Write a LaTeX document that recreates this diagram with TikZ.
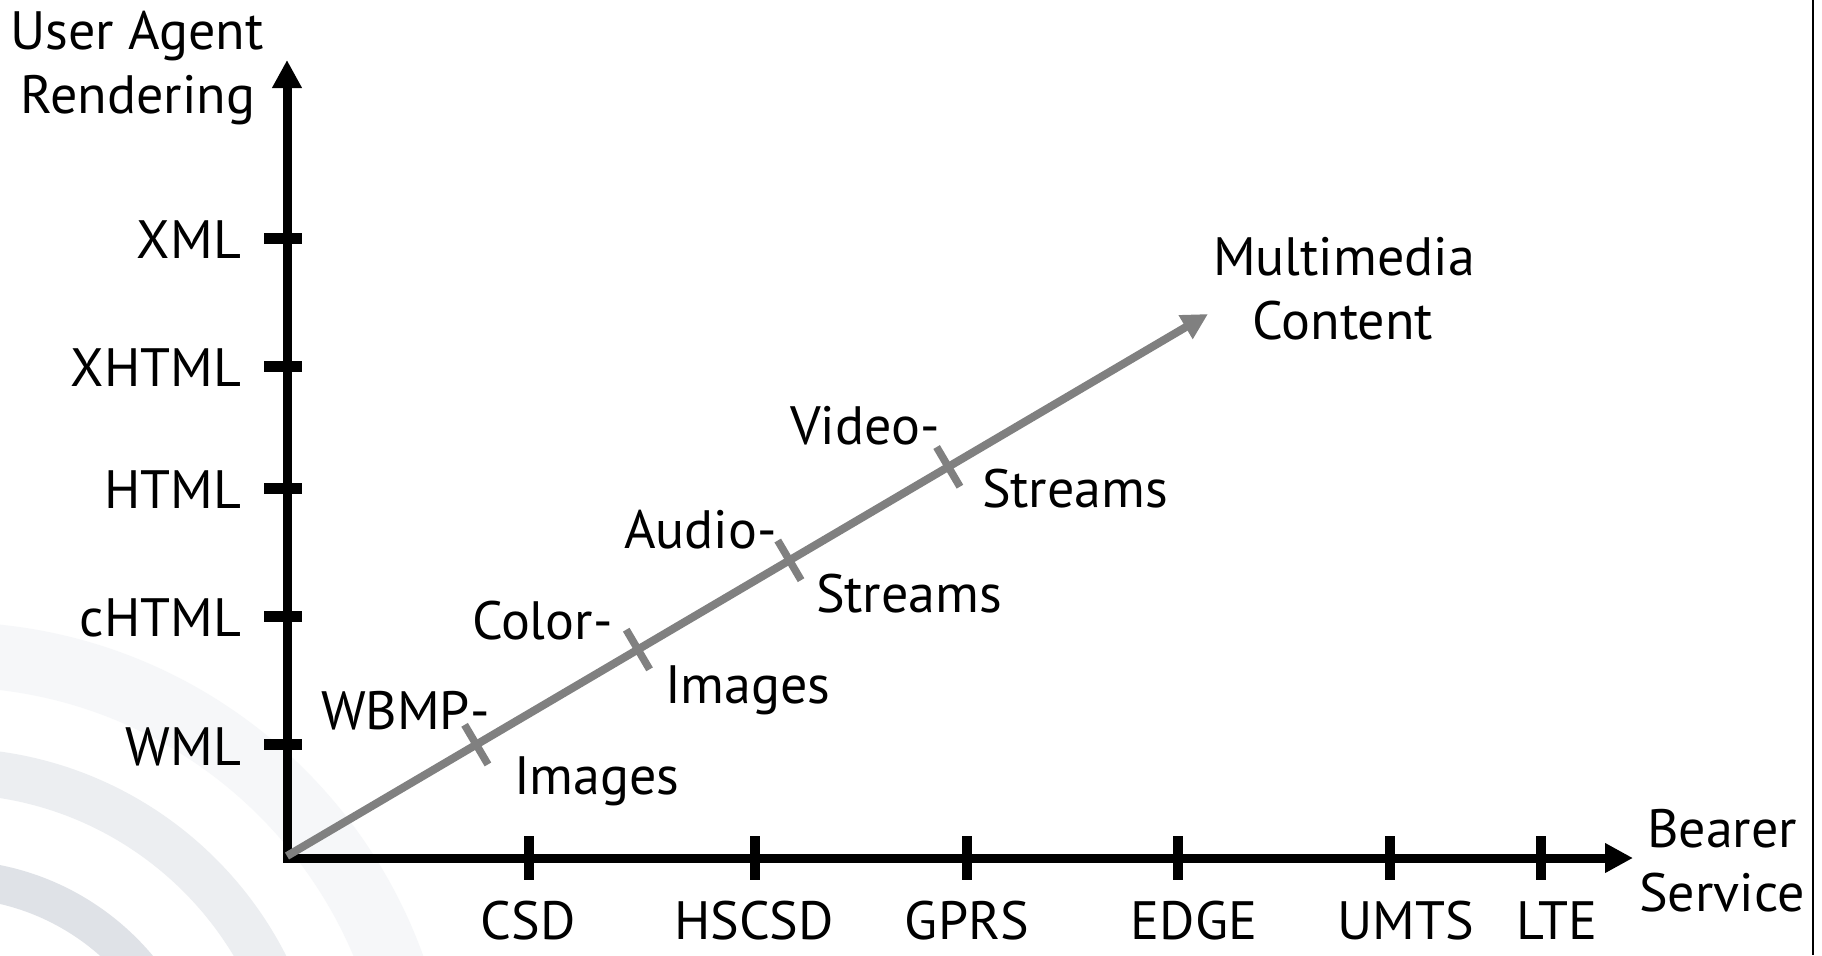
\documentclass[tikz,border=0pt]{standalone}
\usepackage{fontspec}
\setmainfont{PT Sans}
\usetikzlibrary{arrows.meta,calc}
\definecolor{arcin}{RGB}{223,226,231}
\definecolor{arcmid}{RGB}{236,238,241}
\definecolor{arcout}{RGB}{246,247,249}
\definecolor{diag}{RGB}{128,128,128}
\tikzset{
  lab/.style={font=\fontsize{27}{33}\selectfont, inner sep=0pt, outer sep=0pt, text=black},
  axisline/.style={line width=4.5pt, draw=black, line join=miter},
  ytick/.style={line width=5.5pt, draw=black},
  xtick/.style={line width=5pt, draw=black},
  diagline/.style={line width=4pt, draw=diag},
  diagtick/.style={line width=3.8pt, draw=diag},
}
\begin{document}
\begin{tikzpicture}[x=0.5pt,y=-0.5pt]
\useasboundingbox (0,0) rectangle (1822,955);
\fill[white] (0,0) rectangle (1822,955);
% background arcs
\begin{scope}
\clip (0,0) rectangle (1822,955);
\coordinate (C) at (-52,1127);
\fill[arcout, even odd rule] (C) circle[radius=252.5pt] (C) circle[radius=220pt];
\fill[arcmid, even odd rule] (C) circle[radius=189.5pt] (C) circle[radius=166.5pt];
\fill[arcin, even odd rule] (C) circle[radius=133.5pt] (C) circle[radius=114.5pt];
\end{scope}
% right border line
\coordinate (rb1) at (1813,0);
\coordinate (rb2) at (1813,955);
\draw[line width=1.2pt] (rb1) -- (rb2);
% axes
\coordinate (O) at (287,858);
\coordinate (ytip) at (287,60);
\coordinate (xtip) at (1633,858);
% y ticks
\foreach \n/\y in {xml/238, xhtml/366, html/488, chtml/616, wml/744}{
  \coordinate (yt\n a) at (264,\y);
  \coordinate (yt\n b) at (302,\y);
  \draw[ytick] (yt\n a) -- (yt\n b);
}
% x ticks
\foreach \n/\x in {csd/529, hscsd/755, gprs/967, edge/1178, umts/1390, lte/1541}{
  \coordinate (xt\n a) at (\x,836);
  \coordinate (xt\n b) at (\x,880);
  \draw[xtick] (xt\n a) -- (xt\n b);
}
\draw[axisline, {Triangle[length=14pt,width=14pt]}-{Triangle[length=14pt,width=14pt]}] (ytip) -- (O) -- (xtip);
% diagonal arrow
\coordinate (D0) at (287,856);
\coordinate (M) at (1208,314);
\draw[diagline, -{Triangle[length=13pt,width=13pt]}] (D0) -- (M);
\foreach \n/\t in {a/0.2055, b/0.381, c/0.5455, d/0.718}{
  \coordinate (dt\n) at ($(D0)!\t!(M)$);
  \draw[diagtick] ($(dt\n)!11.5pt!90:(M)$) -- ($(dt\n)!11.5pt!-90:(M)$);
}
% labels
\node[lab, anchor=base] (ua1) at (137,49) {User Agent};
\node[lab, anchor=base] (ua2) at (138,113) {Rendering};
\node[lab, anchor=base east] (lxml) at (241,258) {XML};
\node[lab, anchor=base east] (lxhtml) at (241,386) {XHTML};
\node[lab, anchor=base east] (lhtml) at (241,508) {HTML};
\node[lab, anchor=base east] (lchtml) at (241,636) {cHTML};
\node[lab, anchor=base east] (lwml) at (241,765) {WML};
\node[lab, anchor=base] (lcsd) at (528,939) {CSD};
\node[lab, anchor=base] (lhscsd) at (754,939) {HSCSD};
\node[lab, anchor=base] (lgprs) at (967,939) {GPRS};
\node[lab, anchor=base] (ledge) at (1194,939) {EDGE};
\node[lab, anchor=base] (lumts) at (1406,939) {UMTS};
\node[lab, anchor=base] (llte) at (1557,939) {LTE};
\node[lab, anchor=base] (bear1) at (1722,847) {Bearer};
\node[lab, anchor=base] (bear2) at (1722,911) {Service};
\node[lab, anchor=base] (mm1) at (1344,275) {Multimedia};
\node[lab, anchor=base] (mm2) at (1343,339) {Content};
\node[lab, anchor=base west] (vid1) at (790,444) {Video-};
\node[lab, anchor=base west] (vid2) at (982,507) {Streams};
\node[lab, anchor=base west] (aud1) at (624,548) {Audio-};
\node[lab, anchor=base west] (aud2) at (816,612) {Streams};
\node[lab, anchor=base west] (col1) at (472,639) {Color-};
\node[lab, anchor=base west] (col2) at (665,703) {Images};
\node[lab, anchor=base west] (wb1) at (321,729) {WBMP-};
\node[lab, anchor=base west] (wb2) at (514,794) {Images};
\end{tikzpicture}
\end{document}
